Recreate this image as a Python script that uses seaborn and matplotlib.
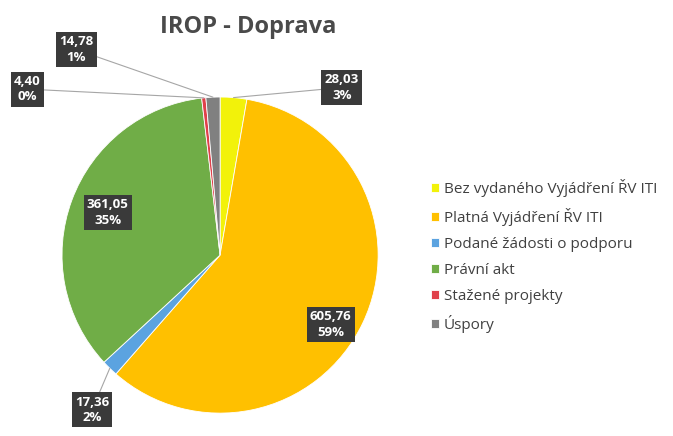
import matplotlib
matplotlib.use("Agg")
import matplotlib.pyplot as plt
import numpy as np
import seaborn as sns

categories = [
    "Bez vydaného Vyjádření ŘV ITI",
    "Platná Vyjádření ŘV ITI",
    "Podané žádosti o podporu",
    "Právní akt",
    "Stažené projekty",
    "Úspory",
]
values = [28.03, 605.76, 17.36, 361.05, 4.40, 14.78]
colors = ["#F2F20A", "#FFC000", "#5BA3E0", "#70AD47", "#E0404A", "#808080"]

sns.set_theme(style="white")
plt.rcParams["font.family"] = ["Open Sans", "DejaVu Sans"]

fig = plt.figure(figsize=(6.73, 4.36), dpi=100)
ax = fig.add_axes([0.092, 0.0525, 0.47, 0.725])

wedges, _ = ax.pie(
    values,
    colors=colors,
    startangle=90,
    counterclock=False,
    radius=1.0,
    wedgeprops={"edgecolor": "white", "linewidth": 0.6},
)
ax.set_xlim(-1, 1)
ax.set_ylim(-1, 1)
ax.set_aspect("equal")
ax.axis("off")

total = sum(values)
# label box placement (data coords) and whether a leader line is drawn
label_pos = [
    (0.77, 1.06, True),
    (0.70, -0.44, False),
    (-0.81, -0.98, True),
    (-0.71, 0.27, False),
    (-1.22, 1.05, True),
    (-0.91, 1.30, True),
]
box = dict(boxstyle="square,pad=0.25", facecolor="#3A3A3A", edgecolor="none")
for w, v, (lx, ly, line) in zip(wedges, values, label_pos):
    pct = v / total * 100
    txt = f"{v:.2f}".replace(".", ",") + f"\n{pct:.0f}%"
    mid = np.deg2rad((w.theta1 + w.theta2) / 2)
    edge = (np.cos(mid), np.sin(mid))
    if line:
        ax.annotate(
            txt, xy=edge, xytext=(lx, ly), ha="center", va="center",
            fontsize=9.5, fontweight="bold", color="white", bbox=box,
            linespacing=1.25, annotation_clip=False,
            arrowprops=dict(arrowstyle="-", color="#A6A6A6", lw=0.8,
                            shrinkA=0, shrinkB=0),
        )
    else:
        ax.text(lx, ly, txt, ha="center", va="center", fontsize=9.5,
                fontweight="bold", color="white", bbox=box, linespacing=1.25)

fig.text(0.369, 0.938, "IROP - Doprava", ha="center", va="center",
         fontsize=17, fontweight="bold", color="#4A4A4A")

fig.legend(
    wedges, categories, loc="center left", bbox_to_anchor=(0.62, 0.413),
    frameon=False, fontsize=11, labelspacing=0.72, handlelength=0.55,
    handleheight=0.55, handletextpad=0.3, labelcolor="#404040",
)

fig.savefig("out.png", dpi=100)
